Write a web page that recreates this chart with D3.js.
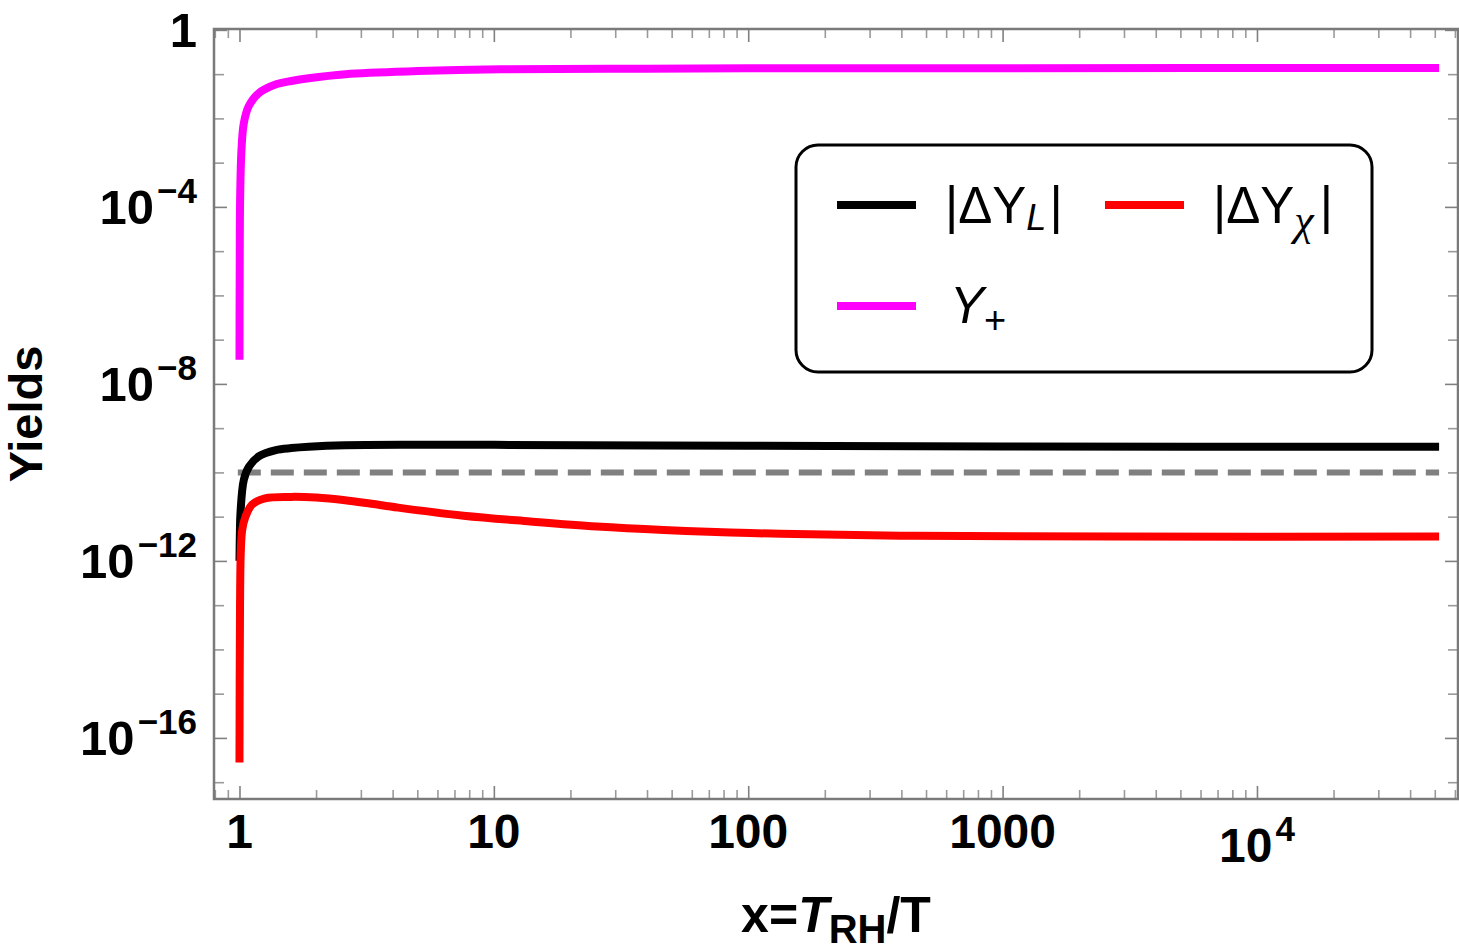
<!DOCTYPE html>
<meta charset="utf-8">
<script src="https://d3js.org/d3.v7.min.js"></script>
<style>
  body { margin: 0; background: #fff; }
  text { font-family: "Liberation Sans", Arial, sans-serif; }
</style>
<div id="vis"></div>
<script>

    // values (x = T_RH/T, yields)
    var xPlus = [1.0, 1.002, 1.006, 1.018, 1.04, 1.088, 1.19, 1.385, 1.6, 1.87, 2.61, 5, 10.6, 30, 100, 1000, 5.2e4];
    var yPlus = [3.5e-8, 3.2e-6, 1.6e-4, 1.9e-3, 7.8e-3, 1.9e-2, 3.7e-2, 5.8e-2, 7.0e-2, 8.1e-2, 0.10, 0.117, 0.129, 0.132, 0.135, 0.136, 0.138];

    var xL = [1.0, 1.004, 1.009, 1.04, 1.09, 1.19, 1.39, 1.6, 1.87, 2.6, 5, 10, 100, 1000, 5.2e4];
    var yL = [1.0e-12, 5.0e-12, 1.2e-11, 6.8e-11, 1.35e-10, 2.3e-10, 3.2e-10, 3.55e-10, 3.8e-10, 4.1e-10, 4.2e-10, 4.2e-10, 4.0e-10, 3.85e-10, 3.8e-10];

    var xChi = [1.0, 1.005, 1.012, 1.025, 1.056, 1.12, 1.26, 1.6, 2.0, 2.6, 3.3, 4.2, 7.6, 13.9, 25.4, 46.5, 85, 134, 450, 2750, 5.2e4];
    var yChi = [2.8e-17, 1.0e-13, 1.6e-12, 5.0e-12, 1.0e-11, 1.86e-11, 2.6e-11, 2.8e-11, 2.7e-11, 2.35e-11, 1.95e-11, 1.6e-11, 1.05e-11, 7.8e-12, 6.0e-12, 5.0e-12, 4.4e-12, 4.1e-12, 3.7e-12, 3.55e-12, 3.55e-12];

    // observed asymmetry (dashed reference)
    var xObs = [0.985, 5.2e4];
    var yObs = [1e-10, 1e-10];

    // tick labels: [base, superscript]
    var xMajor = [1, 10, 100, 1000, 1e4];
    var xTickLabels = [["1", ""], ["10", ""], ["100", ""], ["1000", ""], ["10", "4"]];
    var yMajor = [1, 1e-4, 1e-8, 1e-12, 1e-16];
    var yTickLabels = [["1", ""], ["10", "\u22124"], ["10", "\u22128"], ["10", "\u221212"], ["10", "\u221216"]];

    var W = 1459, H = 951;
    var margin = { top: 29, right: 1, bottom: 152, left: 214 };

    var svg = d3.select("#vis")
        .append("svg")
        .attr("width", W)
        .attr("height", H);

    var x = d3.scaleLog()
        .domain([0.794, 6.17e4])
        .range([margin.left, W - margin.right]);
    var y = d3.scaleLog()
        .domain([Math.pow(10, -17.38), Math.pow(10, 0.02)])
        .range([H - margin.bottom, margin.top]);

    // minor ticks: 2..9 per decade, every decade on y
    var xMinor = [];
    for (var k = -1; k <= 4; k++) {
        for (var m = 2; m <= 9; m++) {
            var v = m * Math.pow(10, k);
            if (v > x.domain()[0] && v < x.domain()[1]) xMinor.push(v);
        }
    }
    var yMinor = [];
    for (var e = 0; e >= -17; e--) {
        if (e % 4 != 0) yMinor.push(Math.pow(10, e));
    }

    function tickAxis(axis, vals, size, color, tr) {
        var g = svg.append("g")
            .attr("transform", tr)
            .call(axis.tickValues(vals).tickSize(-size).tickSizeOuter(0).tickFormat(""));
        g.select(".domain").remove();
        g.selectAll("line").attr("stroke", color).attr("stroke-width", 1.6);
    }
    var bottomY = H - margin.bottom, topY = margin.top, rightX = W - margin.right;
    tickAxis(d3.axisBottom(x), xMinor, 9, "#9a9a9a", "translate(0," + bottomY + ")");
    tickAxis(d3.axisBottom(x), xMajor, 13, "#808080", "translate(0," + bottomY + ")");
    tickAxis(d3.axisTop(x), xMinor, 9, "#9a9a9a", "translate(0," + topY + ")");
    tickAxis(d3.axisTop(x), xMajor, 13, "#808080", "translate(0," + topY + ")");
    tickAxis(d3.axisLeft(y), yMinor, 10, "#9a9a9a", "translate(" + margin.left + ",0)");
    tickAxis(d3.axisLeft(y), yMajor, 13, "#808080", "translate(" + margin.left + ",0)");
    tickAxis(d3.axisRight(y), yMinor, 10, "#9a9a9a", "translate(" + rightX + ",0)");
    tickAxis(d3.axisRight(y), yMajor, 13, "#808080", "translate(" + rightX + ",0)");

    // frame
    svg.append("rect")
        .attr("x", margin.left)
        .attr("y", margin.top)
        .attr("width", rightX - margin.left)
        .attr("height", bottomY - margin.top)
        .attr("fill", "none")
        .attr("stroke", "#7a7a7a")
        .attr("stroke-width", 2.5);

    // tick labels
    yMajor.forEach(function (v, i) {
        var t = svg.append("text")
            .attr("x", 197)
            .attr("y", y(v) + 17)
            .attr("text-anchor", "end")
            .style("font-weight", "bold")
            .style("font-size", "49px");
        t.append("tspan").text(yTickLabels[i][0]);
        if (yTickLabels[i][1] != "") {
            t.append("tspan").attr("dx", 3).attr("dy", -21).style("font-size", "35px").text(yTickLabels[i][1]);
        }
    });
    xMajor.forEach(function (v, i) {
        var sup = xTickLabels[i][1] != "";
        var t = svg.append("text")
            .attr("x", x(v))
            .attr("y", sup ? 862 : 848)
            .attr("text-anchor", "middle")
            .style("font-weight", "bold")
            .style("font-size", "48px");
        t.append("tspan").text(xTickLabels[i][0]);
        if (sup) {
            t.append("tspan").attr("dx", 3).attr("dy", -21).style("font-size", "35px").text(xTickLabels[i][1]);
        }
    });

    // axis titles
    var xt = svg.append("text")
        .attr("x", (margin.left + rightX) / 2)
        .attr("y", 932)
        .attr("text-anchor", "middle")
        .style("font-weight", "bold")
        .style("font-size", "50px");
    xt.append("tspan").text("x=");
    xt.append("tspan").style("font-style", "italic").text("T");
    xt.append("tspan").attr("dy", 11).style("font-size", "40px").text("RH");
    xt.append("tspan").attr("dy", -11).text("/T");

    svg.append("text")
        .attr("transform", "translate(42," + ((margin.top + bottomY) / 2) + ") rotate(-90)")
        .attr("text-anchor", "middle")
        .style("font-weight", "bold")
        .style("font-size", "47px")
        .text("Yields");

    // curves
    var line = d3.line()
        .x(function (d) { return x(d[0]); })
        .y(function (d) { return y(d[1]); })
        .curve(d3.curveCatmullRom.alpha(0.5));

    function draw(xs, ys, color, w, dash) {
        var p = svg.append("path")
            .datum(d3.zip(xs, ys))
            .attr("d", line)
            .attr("fill", "none")
            .attr("stroke", color)
            .attr("stroke-width", w)
            .attr("stroke-linejoin", "round");
        if (dash) p.attr("stroke-dasharray", dash);
    }
    draw(xObs, yObs, "#808080", 6, "23,10");
    draw(xPlus, yPlus, "#ff00ff", 8);
    draw(xL, yL, "#000000", 8);
    draw(xChi, yChi, "#ff0000", 8);

    // legend
    var lg = svg.append("g");
    lg.append("rect")
        .attr("x", 796).attr("y", 145)
        .attr("width", 576).attr("height", 227)
        .attr("rx", 22)
        .attr("fill", "#fff")
        .attr("stroke", "#000")
        .attr("stroke-width", 3);

    var legendItems = [
        { color: "#000000", lx: 837, ly: 205 },
        { color: "#ff0000", lx: 1105, ly: 205 },
        { color: "#ff00ff", lx: 837, ly: 306 }
    ];
    legendItems.forEach(function (d) {
        lg.append("line")
            .attr("x1", d.lx).attr("x2", d.lx + 79)
            .attr("y1", d.ly).attr("y2", d.ly)
            .attr("stroke", d.color)
            .attr("stroke-width", 8);
    });

    var t1 = lg.append("text").attr("x", 945).attr("y", 223).style("font-size", "51px");
    t1.append("tspan").text("|\u0394Y");
    t1.append("tspan").attr("dy", 7).style("font-size", "36px").style("font-style", "italic").text("L");
    t1.append("tspan").attr("dx", 3).attr("dy", -7).text("|");

    var t2 = lg.append("text").attr("x", 1213).attr("y", 223).style("font-size", "51px");
    t2.append("tspan").text("|\u0394Y");
    t2.append("tspan").attr("dy", 12).style("font-size", "44px").style("font-style", "italic")
        .style("font-family", "'Liberation Serif', serif").text("\u03c7");
    t2.append("tspan").attr("dx", 6).attr("dy", -12).text("|");

    var t3 = lg.append("text").attr("x", 950).attr("y", 323).style("font-size", "51px");
    t3.append("tspan").style("font-style", "italic").text("Y");
    t3.append("tspan").attr("dy", 10).style("font-size", "38px").text("+");

</script>
